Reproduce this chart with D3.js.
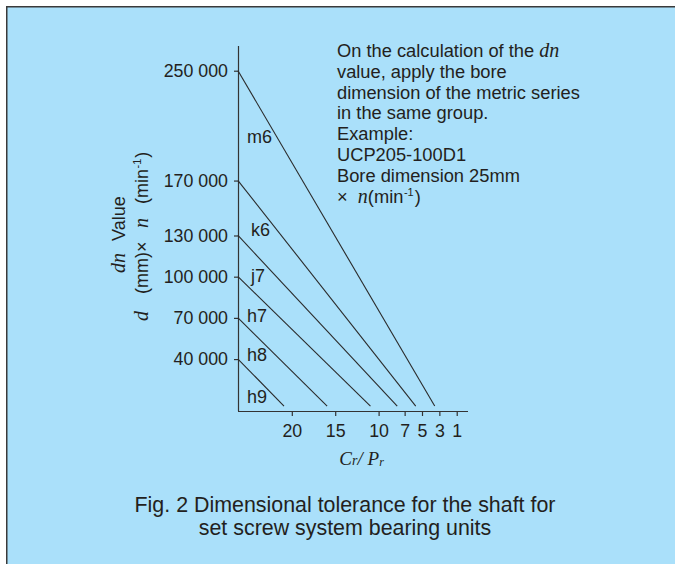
<!DOCTYPE html>
<html>
<head>
<meta charset="utf-8">
<script src="https://cdn.jsdelivr.net/npm/d3@7"></script>
<style>
  html, body { margin: 0; padding: 0; background: #ffffff; }
  svg { display: block; }
</style>
</head>
<body>
<svg id="chart" width="675" height="564"></svg>
<script>
// ---- data ----
const categories = ["m6", "k6", "j7", "h7", "h8", "h9"];
const dnStart = [250000, 170000, 130000, 100000, 70000, 40000];   // dn value where each line leaves the axis
const crPrEnd = [3, 5, 7, 10, 15, 20];                              // Cr/Pr where each line reaches dn = 0
const labelDn = [202000, 134000, 101000, 71500, 43500, 13000];      // dn level of each tolerance label
const yTicks = [40000, 70000, 100000, 130000, 170000, 250000];
const xTicks = [20, 15, 10, 7, 5, 3, 1];
const xDomain = [26.2, -0.3];
const yDomain = [0, 268000];
const lineStopDn = 5800;   // lines are drawn down to this dn level
const axisBaseDn = 2200;   // dn level of the drawn baseline

const noteLines = [
  ["On the calculation of the ", {it: "dn"}],
  ["value, apply the bore"],
  ["dimension of the metric series"],
  ["in the same group."],
  ["Example:"],
  ["UCP205-100D1"],
  ["Bore dimension 25mm"],
  ["\u00d7  ", {it: "n"}, "(min", {sup: "-1"}, ")"]
];
const captionLines = [
  "Fig. 2 Dimensional tolerance for the shaft for",
  "set screw system bearing units"
];

// ---- styles ----
const BG = "#aae0fa";
const INK = "#231f20";
const SANS = "'Liberation Sans', Arial, Helvetica, sans-serif";
const SERIF = "'Liberation Serif', 'Times New Roman', serif";

const svg = d3.select("#chart");

// panel
svg.append("rect").attr("x", 6.75).attr("y", 6.75)
  .attr("width", 700).attr("height", 600)
  .attr("fill", BG).attr("stroke", "#3a3a3a").attr("stroke-width", 1.5);

const x = d3.scaleLinear().domain(xDomain).range([238, 468]);
const y = d3.scaleLinear().domain(yDomain).range([414, 46]);

const locale = d3.formatLocale({decimal: ".", thousands: " ", grouping: [3], currency: ["", ""]});
const fmt = locale.format(",");

const baseY = y(axisBaseDn);

// y axis
const yAxis = svg.append("g")
  .attr("transform", `translate(${x(xDomain[0])},0)`)
  .call(d3.axisLeft(y).tickValues(yTicks).tickFormat(fmt).tickSize(4).tickPadding(6).tickSizeOuter(0));
yAxis.select(".domain").attr("d", `M0.5,${y(yDomain[1])}V${baseY}`);

// x axis
const xAxis = svg.append("g")
  .attr("transform", `translate(0,${baseY})`)
  .call(d3.axisBottom(x).tickValues(xTicks).tickFormat(d3.format("d")).tickSize(5).tickPadding(8.6).tickSizeOuter(0));
xAxis.select(".domain").attr("d", `M${x(xDomain[0])},0.5H${x(xDomain[1])}`);

[yAxis, xAxis].forEach(g => {
  g.selectAll("path, line").attr("stroke", "#333").attr("stroke-width", 1.2);
  g.selectAll("text").attr("fill", INK).attr("font-family", SANS).attr("font-size", 17.8);
});

// diagonal tolerance lines
const lines = categories.map((c, i) => {
  const t = (dnStart[i] - lineStopDn) / dnStart[i];
  const xEnd = xDomain[0] + t * (crPrEnd[i] - xDomain[0]);
  return {c, x0: xDomain[0], y0: dnStart[i], x1: xEnd, y1: lineStopDn};
});
svg.append("g").selectAll("line").data(lines).join("line")
  .attr("x1", d => x(d.x0)).attr("y1", d => y(d.y0))
  .attr("x2", d => x(d.x1)).attr("y2", d => y(d.y1))
  .attr("stroke", "#2a2a2a").attr("stroke-width", 1.1);

// labels
const labelDx = {k6: 4, j7: 4};
svg.append("g").selectAll("text").data(categories).join("text")
  .attr("x", d => x(xDomain[0]) + 9 + (labelDx[d] || 0))
  .attr("y", (d, i) => y(labelDn[i]))
  .attr("dy", "0.36em")
  .attr("font-family", SANS).attr("font-size", 18).attr("fill", INK)
  .text(d => d);

// note text
const note = svg.append("g");
noteLines.forEach((parts, i) => {
  const t = note.append("text")
    .attr("x", 337).attr("y", 56.7 + i * 20.9)
    .attr("font-family", SANS).attr("font-size", 18.3).attr("fill", INK)
    .attr("xml:space", "preserve").style("white-space", "pre");
  let lift = 0;
  parts.forEach(p => {
    if (typeof p === "string") {
      const s = t.append("tspan").text(p);
      if (lift) { s.attr("dy", lift).attr("dx", 1); lift = 0; }
    } else if (p.it) {
      t.append("tspan").attr("font-family", SERIF).attr("font-style", "italic").attr("font-size", 20).text(p.it);
    } else if (p.sup) {
      t.append("tspan").attr("font-size", 11).attr("dy", -7).attr("dx", 0.5).text(p.sup);
      lift = 7;
    }
  });
});

// y title line 1
const yt1 = svg.append("text")
  .attr("transform", "translate(125,273) rotate(-90)")
  .attr("font-family", SANS).attr("font-size", 18).attr("fill", INK);
yt1.append("tspan").attr("x", 0).attr("font-family", SERIF).attr("font-style", "italic").attr("font-size", 20).text("dn");
yt1.append("tspan").attr("x", 32).text("Value");

// y title line 2
const yt2 = svg.append("text")
  .attr("transform", "translate(148,321) rotate(-90)")
  .attr("font-family", SANS).attr("font-size", 18).attr("fill", INK);
yt2.append("tspan").attr("x", 0).attr("font-family", SERIF).attr("font-style", "italic").attr("font-size", 20).text("d");
yt2.append("tspan").attr("x", 27).text("(mm)\u00d7");
yt2.append("tspan").attr("x", 93).attr("font-family", SERIF).attr("font-style", "italic").attr("font-size", 20).text("n");
yt2.append("tspan").attr("x", 117).text("(min");
yt2.append("tspan").attr("font-size", 11).attr("dy", -7).attr("dx", 0.5).text("-1");
yt2.append("tspan").attr("dy", 7).attr("dx", 1).text(")");

// x title
const xt = svg.append("text")
  .attr("x", (x(20) + x(3)) / 2 - 4).attr("y", 465)
  .attr("text-anchor", "middle")
  .attr("font-family", SERIF).attr("font-style", "italic").attr("font-size", 19).attr("fill", INK);
xt.append("tspan").text("C");
xt.append("tspan").attr("font-size", 14).text("r");
xt.append("tspan").text("/ P");
xt.append("tspan").attr("font-size", 12).attr("dy", 1).text("r");

// caption
svg.append("g").selectAll("text").data(captionLines).join("text")
  .attr("x", 345).attr("y", (d, i) => 512.3 + i * 22.7)
  .attr("text-anchor", "middle")
  .attr("font-family", SANS).attr("font-size", 21.4).attr("fill", INK)
  .text(d => d);
</script>
</body>
</html>
